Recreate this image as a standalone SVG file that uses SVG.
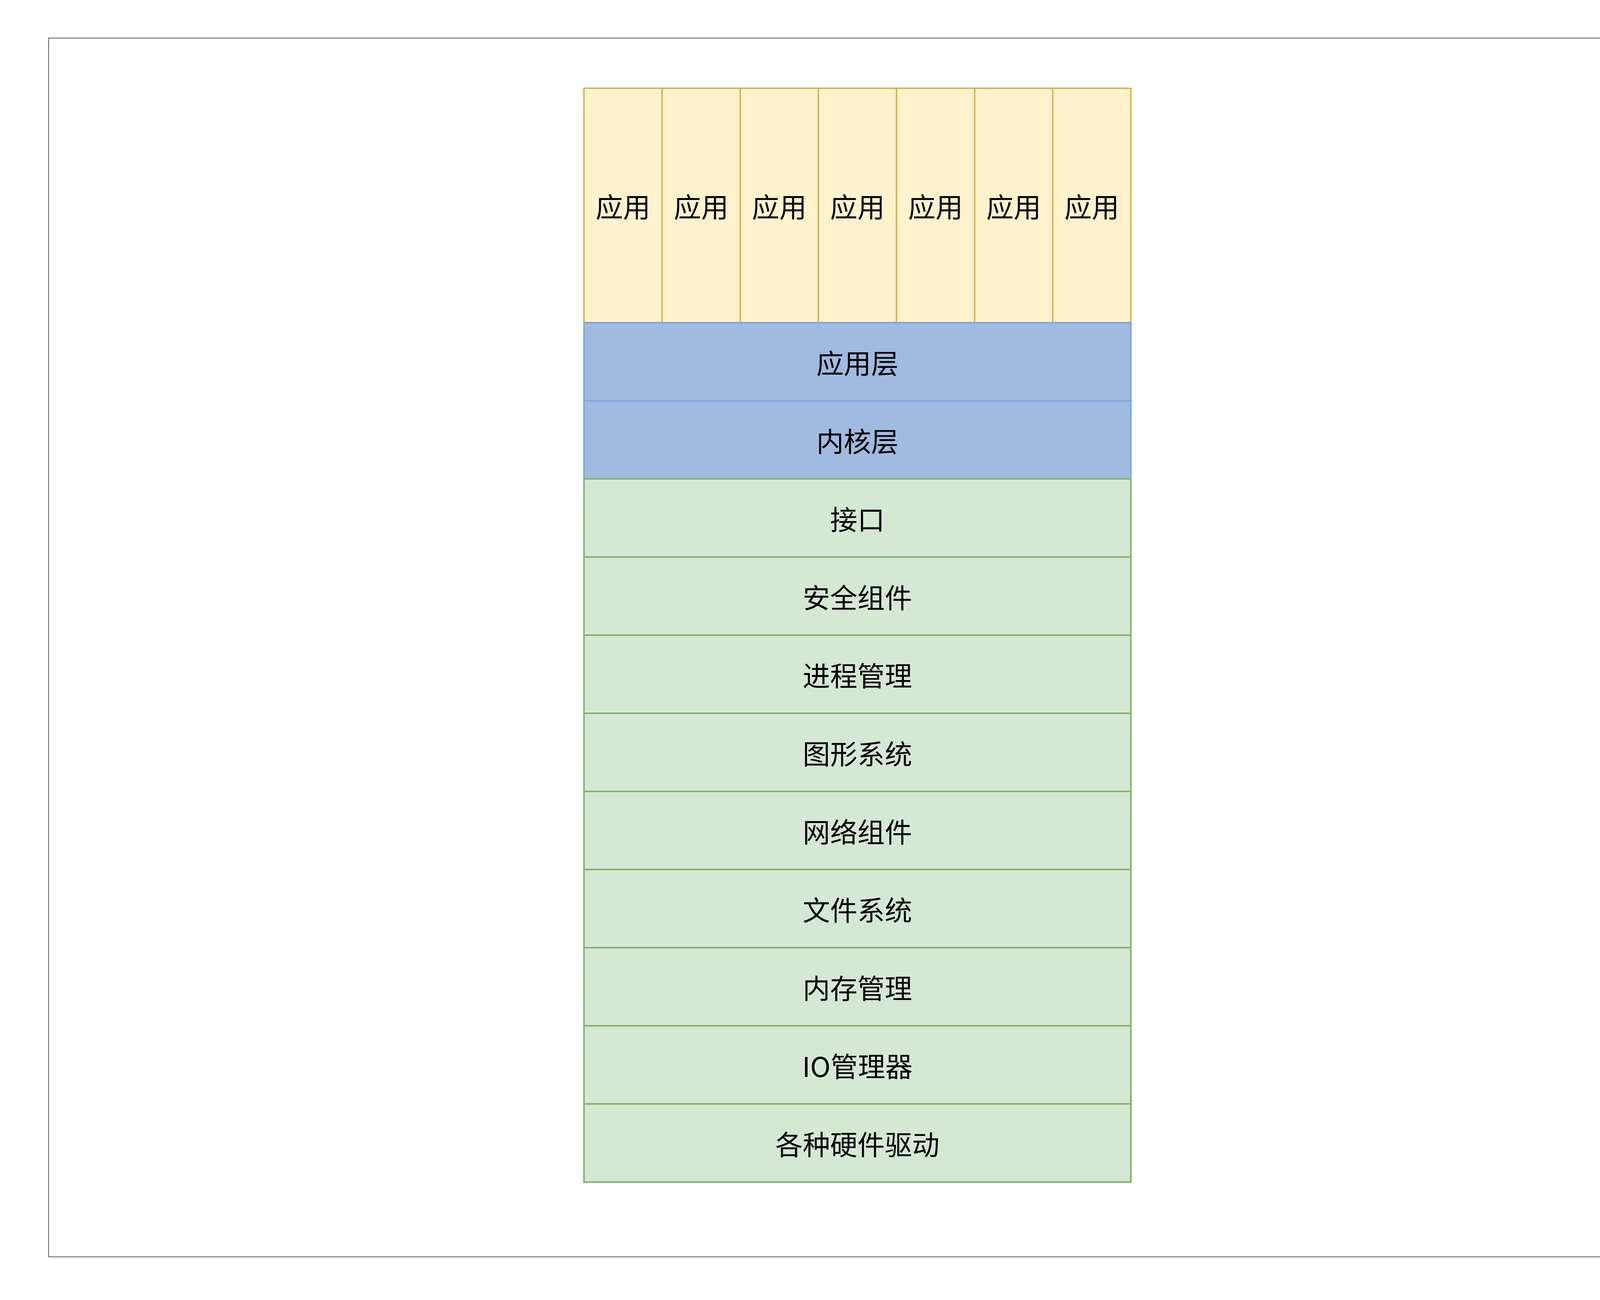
<svg xmlns="http://www.w3.org/2000/svg" width="4298" height="3328" viewBox="0 0 4298 3328">
<style>
text{font-family:"Noto Sans CJK SC","Noto Sans",sans-serif;font-size:70px;fill:#000;text-anchor:middle;dominant-baseline:central}
.app{fill:#fff2cc;stroke:#d6b656;stroke-width:4}
.blue{fill:#a1bae0;stroke:#7ea6e0;stroke-width:4}
.green{fill:#d5e8d4;stroke:#82b366;stroke-width:4}
</style>
<rect x="0" y="0" width="4298" height="3328" fill="#ffffff"/>
<rect id="frame" x="124.5" y="97.5" width="4059" height="3120" fill="#ffffff" stroke="#262626" stroke-width="1.5"/>
<g id="app1"><rect class="app" x="1495" y="226" width="200" height="600"/><text x="1595" y="526">应用</text></g>
<g id="app2"><rect class="app" x="1695" y="226" width="200" height="600"/><text x="1795" y="526">应用</text></g>
<g id="app3"><rect class="app" x="1895" y="226" width="200" height="600"/><text x="1995" y="526">应用</text></g>
<g id="app4"><rect class="app" x="2095" y="226" width="200" height="600"/><text x="2195" y="526">应用</text></g>
<g id="app5"><rect class="app" x="2295" y="226" width="200" height="600"/><text x="2395" y="526">应用</text></g>
<g id="app6"><rect class="app" x="2495" y="226" width="200" height="600"/><text x="2595" y="526">应用</text></g>
<g id="app7"><rect class="app" x="2695" y="226" width="200" height="600"/><text x="2795" y="526">应用</text></g>
<g id="app-layer"><rect class="blue" x="1495" y="826" width="1400" height="200"/><text x="2195" y="926">应用层</text></g>
<g id="kernel-layer"><rect class="blue" x="1495" y="1026" width="1400" height="200"/><text x="2195" y="1126">内核层</text></g>
<g id="interface"><rect class="green" x="1495" y="1226" width="1400" height="200"/><text x="2195" y="1326">接口</text></g>
<g id="security"><rect class="green" x="1495" y="1426" width="1400" height="200"/><text x="2195" y="1526">安全组件</text></g>
<g id="process"><rect class="green" x="1495" y="1626" width="1400" height="200"/><text x="2195" y="1726">进程管理</text></g>
<g id="graphics"><rect class="green" x="1495" y="1826" width="1400" height="200"/><text x="2195" y="1926">图形系统</text></g>
<g id="network"><rect class="green" x="1495" y="2026" width="1400" height="200"/><text x="2195" y="2126">网络组件</text></g>
<g id="filesystem"><rect class="green" x="1495" y="2226" width="1400" height="200"/><text x="2195" y="2326">文件系统</text></g>
<g id="memory"><rect class="green" x="1495" y="2426" width="1400" height="200"/><text x="2195" y="2526">内存管理</text></g>
<g id="io"><rect class="green" x="1495" y="2626" width="1400" height="200"/><text x="2195" y="2726">IO管理器</text></g>
<g id="drivers"><rect class="green" x="1495" y="2826" width="1400" height="200"/><text x="2195" y="2926">各种硬件驱动</text></g>
<g id="connectors"></g>
</svg>
